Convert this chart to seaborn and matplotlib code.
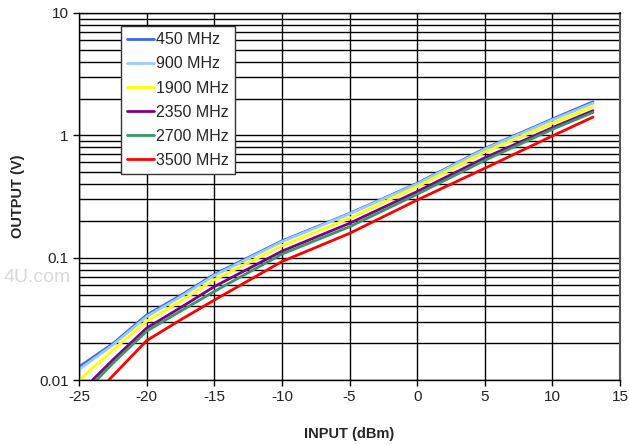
import numpy as np
import pandas as pd
import seaborn as sns
import matplotlib
matplotlib.use("Agg")
import matplotlib.pyplot as plt
from matplotlib.ticker import LogLocator, NullFormatter, FixedLocator

# input power (dBm) / output (V), per frequency
x_450 = [-25, -22.5, -20, -17.5, -15, -10, -5, 0, 5, 10, 13]
y_450 = [0.0128, 0.0198, 0.0340, 0.0490, 0.0730, 0.137, 0.230, 0.405, 0.780, 1.36, 1.88]
x_900 = [-25, -22.5, -20, -17.5, -15, -10, -5, 0, 5, 10, 13]
y_900 = [0.0122, 0.0193, 0.0330, 0.0478, 0.0715, 0.135, 0.228, 0.400, 0.770, 1.336, 1.83]
x_1900 = [-25, -22.5, -20, -17.5, -15, -10, -5, 0, 5, 10, 13]
y_1900 = [0.0100, 0.0176, 0.0303, 0.0440, 0.0660, 0.125, 0.210, 0.381, 0.730, 1.256, 1.72]
x_2350 = [-24.0, -22.5, -20, -17.5, -15, -10, -5, 0, 5, 10, 13]
y_2350 = [0.0100, 0.0146, 0.0266, 0.0390, 0.0580, 0.113, 0.191, 0.347, 0.655, 1.156, 1.59]
x_2700 = [-23.7, -22.5, -20, -17.5, -15, -10, -5, 0, 5, 10, 13]
y_2700 = [0.0100, 0.0137, 0.0251, 0.0365, 0.0530, 0.107, 0.179, 0.330, 0.625, 1.12, 1.54]
x_3500 = [-22.8, -20, -17.5, -15, -10, -5, 0, 5, 10, 13]
y_3500 = [0.0100, 0.0210, 0.0310, 0.0450, 0.093, 0.158, 0.296, 0.538, 0.989, 1.41]

labels = ["450 MHz", "900 MHz", "1900 MHz", "2350 MHz", "2700 MHz", "3500 MHz"]
colors = ["#3a66f0", "#99ccff", "#ffff00", "#800080", "#339966", "#ff0000"]
xticks = [-25, -20, -15, -10, -5, 0, 5, 10, 15]
yticks = [0.01, 0.1, 1, 10]
ytick_labels = ["0.01", "0.1", "1", "10"]

series = [(x_450, y_450), (x_900, y_900), (x_1900, y_1900),
          (x_2350, y_2350), (x_2700, y_2700), (x_3500, y_3500)]
frames = []
for lab, (xs, ys) in zip(labels, series):
    frames.append(pd.DataFrame({"input": xs, "output": ys, "freq": lab}))
df = pd.concat(frames, ignore_index=True)

sns.set_style("white")
plt.rcParams["font.family"] = ["Liberation Sans", "DejaVu Sans"]
plt.rcParams["axes.unicode_minus"] = False

fig = plt.figure(figsize=(6.29, 4.45), dpi=100)
ax = fig.add_axes([0.1256, 0.146, 0.8601, 0.8248])

# faint watermark peeking out from behind the plot area
fig.text(3 / 629, 1 - 277 / 445, "4U.com", ha="left", va="center",
         fontsize=14, color="#d9d9d9", zorder=-1)

sns.lineplot(data=df, x="input", y="output", hue="freq", hue_order=labels,
             palette=colors, linewidth=2, sort=False, estimator=None, ax=ax)

ax.set_yscale("log")
ax.set_xlim(-25, 15)
ax.set_ylim(0.01, 10)
ax.xaxis.set_major_locator(FixedLocator(xticks))
ax.set_yticks(yticks)
ax.set_yticklabels(ytick_labels)
ax.yaxis.set_minor_locator(LogLocator(base=10, subs=np.arange(2, 10)))
ax.yaxis.set_minor_formatter(NullFormatter())

ax.grid(True, which="major", color="black", linewidth=1)
ax.grid(True, which="minor", axis="y", color="black", linewidth=1)
ax.set_axisbelow(True)
ax.tick_params(axis="both", which="major", direction="out", length=4, width=1,
               color="black", labelsize=11, labelcolor="#222222", left=True, bottom=True)
ax.tick_params(axis="y", which="minor", length=0)
for side in ax.spines.values():
    side.set_color("black")
    side.set_linewidth(1)
ax.spines["right"].set_color("#555555")
ax.spines["right"].set_linewidth(1.5)

ax.set_xlabel("INPUT (dBm)", fontsize=10.5, fontweight="bold", labelpad=16)
ax.set_ylabel("OUTPUT (V)", fontsize=10.5, fontweight="bold", labelpad=10)

leg = ax.legend(loc="upper left", bbox_to_anchor=(0.0776, 0.9646), borderaxespad=0,
                fontsize=11.5, frameon=True, fancybox=False, handlelength=1.65,
                handletextpad=0.15, labelspacing=0.57, borderpad=0.4)
leg.get_frame().set_edgecolor("#333333")
leg.get_frame().set_linewidth(1)
leg.get_frame().set_alpha(1)

fig.savefig("out.png", dpi=100)
